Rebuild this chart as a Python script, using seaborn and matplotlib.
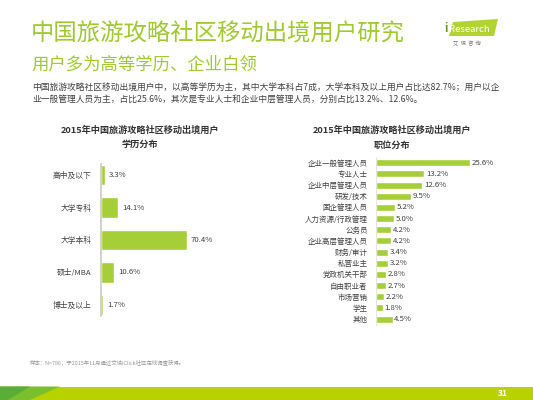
import matplotlib
matplotlib.use("Agg")
import matplotlib.pyplot as plt
import seaborn as sns
import pandas as pd
from matplotlib.patches import Polygon, Rectangle

# data
edu_labels = ["高中及以下", "大学专科", "大学本科", "硕士/MBA", "博士及以上"]
edu_values = [3.3, 14.1, 70.4, 10.6, 1.7]

job_labels = ["企业一般管理人员", "专业人士", "企业中层管理人员", "研发/技术", "国企管理人员",
              "人力资源/行政管理", "公务员", "企业高层管理人员", "财务/审计", "私营业主",
              "党政机关干部", "自由职业者", "市场营销", "学生", "其他"]
job_values = [25.6, 13.2, 12.6, 9.5, 5.2, 5.0, 4.2, 4.2, 3.4, 3.2, 2.8, 2.7, 2.2, 1.8, 4.5]

title = "中国旅游攻略社区移动出境用户研究"
subtitle = "用户多为高等学历、企业白领"
body = ["中国旅游攻略社区移动出境用户中，以高等学历为主，其中大学本科占7成，大学本科及以上用户占比达82.7%；用户以企",
        "业一般管理人员为主，占比25.6%，其次是专业人士和企业中层管理人员，分别占比13.2%、12.6%。"]
note = "样本：N=786；于2015年11月通过艾瑞iClick社区在线调查获得。"

sns.set_style("white")
plt.rcParams["font.family"] = ["Noto Sans CJK SC", "DejaVu Sans"]

W, H = 533, 400
fig = plt.figure(figsize=(W / 100, H / 100), dpi=100)

GREEN = "#A6CE39"
TGREEN = "#A0C832"

def px(x, y, w, h):
    # pixel box (top-left origin) -> figure fraction
    return [x / W, 1 - (y + h) / H, w / W, h / H]

# header
fig.text(31 / W, 1 - 34 / H, title, fontsize=16.8, color=TGREEN, va="center", ha="left")
fig.text(31 / W, 1 - 65 / H, subtitle, fontsize=12.5, color=TGREEN, va="center", ha="left")
for i, line in enumerate(body):
    fig.text(32 / W, 1 - (87 + 12.5 * i) / H, line, fontsize=6.3, color="#404040", va="center", ha="left")

# logo
fig.patches.append(Polygon([[449 / W, 1 - 36 / H], [453 / W, 1 - 22 / H], [498 / W, 1 - 19 / H], [494 / W, 1 - 36 / H]],
                           closed=True, transform=fig.transFigure, facecolor="#B3D334", edgecolor="none"))
fig.text(444 / W, 1 - 29 / H, "i", fontsize=8, color="#6E8F2A", fontweight="bold", va="center", ha="left")
fig.text(449 / W, 1 - 29 / H, "Research", fontsize=6.8, color="white", va="center", ha="left")
fig.text(467 / W, 1 - 43 / H, "艾  瑞  咨  询", fontsize=3.8, color="#777777", va="center", ha="center")

# left chart: education
df_edu = pd.DataFrame({"label": edu_labels, "value": edu_values})
ax1 = fig.add_axes(px(101, 158.75, 122, 162.5))
sns.barplot(data=df_edu, y="label", x="value", orient="h", color=GREEN, width=0.62, ax=ax1, saturation=1)
ax1.set_xlim(0, 100)
ax1.set_ylim(4.5, -0.5)
for c in ax1.containers:
    ax1.bar_label(c, labels=[f"{v}%" for v in edu_values], padding=3, fontsize=5.6, color="#404040")
ax1.set_xlabel("")
ax1.set_ylabel("")
ax1.set_xticks([])
ax1.tick_params(axis="y", length=0, pad=7, labelsize=5.6, labelcolor="#404040")
for s in ["top", "right", "bottom"]:
    ax1.spines[s].set_visible(False)
ax1.spines["left"].set_color("#C8C8C8")
ax1.spines["left"].set_linewidth(1.2)
ax1.spines["left"].set_bounds(-0.35, 4.35)
fig.text(140 / W, 1 - 130 / H, "2015年中国旅游攻略社区移动出境用户", fontsize=6.6, fontweight="bold",
         color="#333333", ha="center", va="center")
fig.text(140 / W, 1 - 144.5 / H, "学历分布", fontsize=6.6, fontweight="bold", color="#333333", ha="center", va="center")

# right chart: job
df_job = pd.DataFrame({"label": job_labels, "value": job_values})
ax2 = fig.add_axes(px(376, 157.1, 110, 167.6))
sns.barplot(data=df_job, y="label", x="value", orient="h", color=GREEN, width=0.63, ax=ax2, saturation=1)
ax2.set_xlim(0, 30)
ax2.set_ylim(14.5, -0.5)
for c in ax2.containers:
    ax2.bar_label(c, labels=[f"{v}%" for v in job_values], padding=1.2, fontsize=5.6, color="#404040")
ax2.set_xlabel("")
ax2.set_ylabel("")
ax2.set_xticks([])
ax2.tick_params(axis="y", length=0, pad=6, labelsize=5.4, labelcolor="#404040")
for s in ["top", "right", "bottom"]:
    ax2.spines[s].set_visible(False)
ax2.spines["left"].set_color("#E0E0E0")
ax2.spines["left"].set_linewidth(0.6)
fig.text(392 / W, 1 - 130 / H, "2015年中国旅游攻略社区移动出境用户", fontsize=6.6, fontweight="bold",
         color="#333333", ha="center", va="center")
fig.text(392 / W, 1 - 145 / H, "职位分布", fontsize=6.6, fontweight="bold", color="#333333", ha="center", va="center")

# footer
fig.text(30 / W, 1 - 363 / H, note, fontsize=3.9, color="#999999", ha="left", va="center")
fig.patches.append(Rectangle((0, 0), 1, 13.5 / H, transform=fig.transFigure, facecolor="#B8D200", edgecolor="none"))
fig.patches.append(Polygon([[0, 0], [0, 13.5 / H], [60 / W, 13.5 / H], [30 / W, 0]], closed=True,
                           transform=fig.transFigure, facecolor="#7CBF2E", edgecolor="none"))
fig.patches.append(Polygon([[0, 0], [0, 13.5 / H], [30 / W, 13.5 / H], [8 / W, 0]], closed=True,
                           transform=fig.transFigure, facecolor="#5BAE35", edgecolor="none"))
fig.text(503 / W, 1 - 393.5 / H, "31", fontsize=6, fontweight="bold", color="white", ha="center", va="center")

fig.savefig("out.png", dpi=100)
